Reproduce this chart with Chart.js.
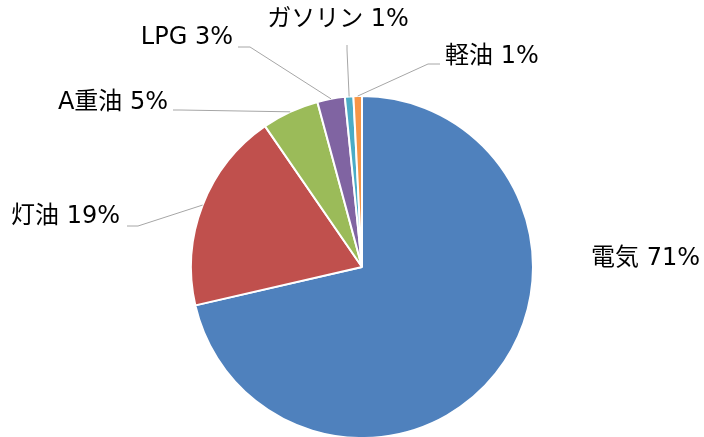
<!DOCTYPE html>
<html>
<head>
<meta charset="utf-8">
<script src="https://cdn.jsdelivr.net/npm/chart.js@4"></script>
<style>
  body { margin: 0; background: #fff; }
  #wrap { width: 704px; height: 437px; }
</style>
</head>
<body>
<div id="wrap"><canvas id="pieChart" width="704" height="437"></canvas></div>
<script>
// energy share by fuel (%)
var categories = ['電気', '灯油', 'A重油', 'LPG', 'ガソリン', '軽油'];
var shares = [71.4, 19.0, 5.4, 2.6, 0.8, 0.8];
var sliceColors = ['#4F81BD', '#C0504D', '#9BBB59', '#8064A2', '#4BACC6', '#F79646'];

// label placement: text anchor + leader line points (label side), arc end is computed
var labelLayout = [
    { x: 591, y: 259, align: 'left', line: null },
    { x: 120, y: 217, align: 'right', line: [[127, 226], [138, 226]] },
    { x: 168, y: 103, align: 'right', line: [[173, 110], [180, 110]] },
    { x: 233, y: 38, align: 'right', line: [[238, 47], [250, 47]] },
    { x: 338, y: 20, align: 'center', line: [[347, 45], [347, 50]] },
    { x: 445, y: 57, align: 'left', line: [[440, 64], [428, 64]] }
];

var labelPlugin = {
    id: 'pieLabels',
    afterDatasetsDraw: function (chart) {
        var ctx = chart.ctx;
        var meta = chart.getDatasetMeta(0);
        ctx.save();
        meta.data.forEach(function (arc, i) {
            var p = arc.getProps(['x', 'y', 'startAngle', 'endAngle', 'outerRadius'], true);
            var mid = (p.startAngle + p.endAngle) / 2;
            var ex = p.x + Math.cos(mid) * p.outerRadius;
            var ey = p.y + Math.sin(mid) * p.outerRadius;
            var lay = labelLayout[i];
            if (lay.line) {
                ctx.strokeStyle = '#A6A6A6';
                ctx.lineWidth = 1;
                ctx.beginPath();
                ctx.moveTo(lay.line[0][0], lay.line[0][1]);
                ctx.lineTo(lay.line[1][0], lay.line[1][1]);
                ctx.lineTo(ex, ey);
                ctx.stroke();
            }
            var pct = Math.round(shares[i]);
            ctx.fillStyle = '#000';
            ctx.font = '24px "DejaVu Sans", "Noto Sans CJK JP", sans-serif';
            ctx.textAlign = lay.align;
            ctx.textBaseline = 'middle';
            ctx.fillText(categories[i] + ' ' + pct + '%', lay.x, lay.y);
        });
        ctx.restore();
    }
};

new Chart(document.getElementById('pieChart').getContext('2d'), {
    type: 'pie',
    data: {
        labels: categories,
        datasets: [{
            data: shares,
            backgroundColor: sliceColors,
            borderColor: '#fff',
            borderWidth: 2,
            radius: 171
        }]
    },
    options: {
        responsive: false,
        animation: false,
        layout: { padding: { left: 192, right: 172, top: 97, bottom: 0 } },
        plugins: {
            legend: { display: false },
            tooltip: { enabled: false }
        }
    },
    plugins: [labelPlugin]
});
</script>
</body>
</html>
